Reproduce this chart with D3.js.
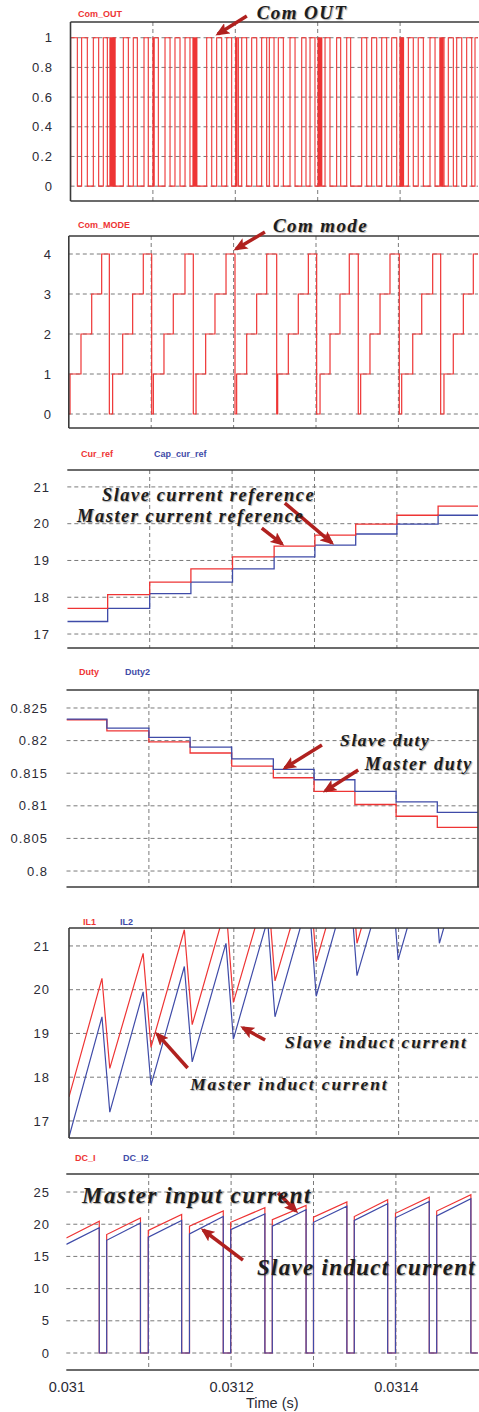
<!DOCTYPE html>
<html>
<head>
<meta charset="utf-8">
<script src="https://cdn.jsdelivr.net/npm/d3@7/dist/d3.min.js"></script>
<style>
  body { margin: 0; background: #fff; }
</style>
</head>
<body>
<div id="chart"></div>
<script>
// all times are in microseconds after t = 0.031 s

// Com_OUT: intervals where the output is high
const comOutPulses = [
  [0.2, 8.3], [13.5, 20.4], [27.7, 34.2], [39.8, 44.7],
  [47.8, 49.0], [49.6, 50.8], [51.4, 52.6], [53.2, 54.2],
  [64.1, 70.2], [76.2, 81.1], [89.2, 94.4], [100.0, 101.0], [101.6, 106.6],
  [114.7, 120.8], [126.8, 132.9], [139.0, 145.0],
  [148.6, 149.8], [150.4, 151.6], [152.2, 153.4],
  [165.3, 171.4], [177.4, 183.5], [189.6, 195.6], [200.4, 201.4], [202.0, 203.7],
  [207.8, 213.8], [219.9, 226.0], [232.0, 238.1], [241.3, 247.0],
  [252.2, 258.3], [266.4, 272.5], [280.6, 285.8], [290.7, 296.7],
  [300.4, 301.6], [302.2, 303.4], [304.0, 305.0],
  [308.9, 314.9], [323.0, 327.9], [335.2, 340.0], [353.4, 359.5],
  [365.5, 371.6], [377.7, 383.7], [389.8, 395.9],
  [399.8, 401.0], [401.6, 402.8], [403.4, 404.2],
  [410.0, 416.0], [422.0, 428.2], [436.3, 442.4],
  [448.2, 449.4], [450.0, 451.2], [451.8, 453.3],
  [458.5, 464.6], [468.7, 474.8], [480.8, 486.9], [490.9, 502]
];

// Com_MODE: [time, mode] held until the next change
const modeSteps = [
  [0, 0], [1.5, 1], [14.8, 2], [27.8, 3], [39.9, 4],
  [49.2, 0], [53.2, 1], [65.4, 2], [77.5, 3], [90.4, 4],
  [100.6, 0], [102.6, 1], [115.5, 2], [126.8, 3], [141.0, 4],
  [151.1, 0], [154.4, 1], [166.1, 2], [177.4, 3], [190.8, 4],
  [201.7, 0], [203.7, 1], [215.9, 2], [228.0, 3], [240.2, 4],
  [252.3, 0], [253.5, 1], [266.4, 2], [278.5, 3], [290.7, 4],
  [300.8, 0], [304.9, 1], [317.0, 2], [329.1, 3], [340.4, 4],
  [351.3, 0], [354.2, 1], [365.5, 2], [377.7, 3], [389.8, 4],
  [401.1, 0], [404.0, 1], [417.4, 2], [428.3, 3], [441.6, 4],
  [451.3, 0], [455.3, 1], [466.6, 2], [478.8, 3], [490.9, 4]
];

// current references and duties change once per switching period
const stepTimes = [0, 49, 100, 150, 200.5, 251, 300.5, 350, 400, 450];
const curRef    = [17.70, 18.07, 18.41, 18.77, 19.10, 19.39, 19.69, 19.99, 20.23, 20.48];
const capCurRef = [17.34, 17.70, 18.10, 18.41, 18.77, 19.10, 19.42, 19.72, 19.99, 20.23];
const duty  = [0.8232, 0.8215, 0.8198, 0.8181, 0.8161, 0.8143, 0.8122, 0.8102, 0.8084, 0.8067];
const duty2 = [0.8233, 0.8219, 0.8205, 0.8190, 0.8172, 0.8156, 0.8140, 0.8122, 0.8106, 0.8090];

// inductor currents: [time, A] at start, peaks and valleys
const il1 = [
  [0, 17.55], [40, 20.26], [49.5, 18.2], [90, 20.83], [99.5, 18.68],
  [140, 21.37], [149.5, 19.2], [190.5, 21.9], [199.5, 19.71], [241, 22.4],
  [250, 20.2], [291, 22.85], [300, 20.64], [340.5, 23.3], [349.5, 21.06],
  [390, 23.7], [399.5, 21.45], [440.5, 24.1], [449.5, 21.8], [491, 24.5], [500, 22.2]
];
const il2 = [
  [0, 16.63], [40, 19.38], [49.5, 17.2], [90, 19.95], [99.5, 17.82],
  [140, 20.53], [149.5, 18.35], [190.5, 21.06], [199.5, 18.87], [241, 21.6],
  [250, 19.38], [291, 22.1], [300, 19.85], [340.5, 22.55], [349.5, 20.32],
  [390, 22.95], [399.5, 20.68], [440.5, 23.4], [449.5, 21.06], [491, 23.8], [500, 21.45]
];

// input currents: conduction from dcOn to dcOff, zero otherwise
const dcOn  = [0, 49, 99.5, 149.5, 199.5, 250, 300, 349.5, 399.5, 449.5];
const dcOff = [40, 90, 140, 190.5, 241, 291, 340.5, 390, 440.5, 491];
const dcIStart  = [17.86, 18.40, 19.05, 19.70, 20.30, 20.70, 21.10, 21.20, 21.70, 22.05];
const dcIEnd    = [20.45, 20.96, 21.50, 22.05, 22.57, 22.93, 23.45, 23.80, 24.20, 24.60];
const dcI2Start = [16.87, 17.50, 18.00, 18.50, 19.15, 19.70, 20.30, 20.60, 21.00, 21.30];
const dcI2End   = [19.46, 20.20, 20.60, 21.20, 21.60, 22.25, 22.80, 23.20, 23.55, 23.96];

const gridTimes = [100, 200, 300, 400];
const xTickTimes = [0, 200, 400];

const RED = '#ee3434';
const BLUE = '#3f4ba8';
const ARROW = '#b0211f';
const W = 479, H = 1412, RIGHT = 478;
const T_END = 502;

const svg = d3.select('#chart').append('svg')
  .attr('width', W)
  .attr('height', H)
  .style('font-family', '"Liberation Sans", Arial, sans-serif');

const defs = svg.append('defs');
defs.append('marker')
  .attr('id', 'head')
  .attr('markerUnits', 'userSpaceOnUse')
  .attr('markerWidth', 14).attr('markerHeight', 12)
  .attr('refX', 11).attr('refY', 6)
  .attr('orient', 'auto')
  .append('path')
  .attr('d', 'M0,0 L14,6 L0,12 L3,6 Z')
  .attr('fill', ARROW);

const line = (x, y) => d3.line().x(d => x(d[0])).y(d => y(d[1]));

// building point lists for the signals
const comOutPoints = [[0, 0]];
comOutPulses.forEach(([s, e]) => comOutPoints.push([s, 0], [s, 1], [e, 1], [e, 0]));

const stepped = (times, vals) => times.map((t, i) => [t, vals[i]]).concat([[T_END, vals[vals.length - 1]]]);

function dcPoints(starts, ends) {
  const pts = [];
  dcOn.forEach((t, i) => {
    if (i > 0) pts.push([t, 0]);
    pts.push([t, starts[i]], [dcOff[i], ends[i]], [dcOff[i], 0]);
  });
  pts.push([T_END, 0]);
  return pts;
}

const panels = [
  {
    top: 22, bottom: 201, left: 70.5, yDomain: [-0.1, 1.106],
    yTicks: [0, 0.2, 0.4, 0.6, 0.8, 1], labelRight: 53, frameLeft: true,
    legendY: 17, legends: [['Com_OUT', 78, RED]],
    series: [{ pts: comOutPoints, color: RED, w: 1.1 }],
    notes: [{ text: 'Com OUT', t: 226, v: 1.126, size: 19, ls: 1.4 }],
    arrows: [[214, 1.146, 179, 1.025]]
  },
  {
    top: 236, bottom: 428, left: 68.8, yDomain: [-0.35, 4.45],
    yTicks: [0, 1, 2, 3, 4], labelRight: 52, frameLeft: true,
    legendY: 228, legends: [['Com_MODE', 78, RED]],
    series: [{ pts: modeSteps.concat([[T_END, 4]]), color: RED, w: 1.2, step: true }],
    notes: [{ text: 'Com mode', t: 247.8, v: 4.55, size: 19, ls: 1.4 }],
    arrows: [[238, 4.55, 203, 4.125]]
  },
  {
    top: 470, bottom: 648, left: 67.3, yDomain: [16.62, 21.46],
    yTicks: [17, 18, 19, 20, 21], labelRight: 50,
    legendY: 457, legends: [['Cur_ref', 81, RED], ['Cap_cur_ref', 154, BLUE]],
    series: [
      { pts: stepped(stepTimes, capCurRef), color: BLUE, w: 1.3, step: true },
      { pts: stepped(stepTimes, curRef), color: RED, w: 1.3, step: true }
    ],
    notes: [
      { text: 'Slave current reference', t: 42, v: 20.62, size: 18.5, ls: 1.5 },
      { text: 'Master current reference', t: 11.8, v: 20.05, size: 18.5, ls: 1.5 }
    ],
    arrows: [[264, 20.56, 321, 19.48], [236, 19.88, 260.5, 19.45]]
  },
  {
    top: 690, bottom: 887, left: 66.5, yDomain: [0.79755, 0.82776],
    yTicks: [0.8, 0.805, 0.81, 0.815, 0.82, 0.825], labelRight: 48, frameRight: true,
    legendY: 675, legends: [['Duty', 79, RED], ['Duty2', 125, BLUE]],
    series: [
      { pts: stepped(stepTimes, duty), color: RED, w: 1.3, step: true },
      { pts: stepped(stepTimes, duty2), color: BLUE, w: 1.3, step: true }
    ],
    notes: [
      { text: 'Slave duty', t: 332, v: 0.81917, size: 17.5, ls: 1.6 },
      { text: 'Master duty', t: 362, v: 0.81549, size: 18, ls: 1.8 }
    ],
    arrows: [[310, 0.81933, 265, 0.8158], [354, 0.81549, 314, 0.81227]]
  },
  {
    top: 928, bottom: 1138, left: 69, yDomain: [16.61, 21.41],
    yTicks: [17, 18, 19, 20, 21], labelRight: 50, frameLeft: true,
    legendY: 925, legends: [['IL1', 83, RED], ['IL2', 120, BLUE]],
    series: [
      { pts: il1, color: RED, w: 1.2 },
      { pts: il2, color: BLUE, w: 1.2 }
    ],
    notes: [
      { text: 'Slave induct current', t: 262, v: 18.67, size: 17.5, ls: 1.8 },
      { text: 'Master induct current', t: 147, v: 17.71, size: 17.5, ls: 1.9 }
    ],
    arrows: [[238, 18.85, 211, 19.13], [144, 18.21, 107, 18.99]]
  },
  {
    top: 1174, bottom: 1370, left: 66.3, yDomain: [-2.64, 27.8],
    yTicks: [0, 5, 10, 15, 20, 25], labelRight: 50, xAxis: true,
    legendY: 1161, legends: [['DC_I', 75, RED], ['DC_I2', 123, BLUE]],
    series: [
      { pts: dcPoints(dcIStart, dcIEnd), color: RED, w: 1.2 },
      { pts: dcPoints(dcI2Start, dcI2End), color: BLUE, w: 1.2 }
    ],
    notes: [
      { text: 'Master input current', t: 19, v: 23.29, size: 23, ls: 1.6 },
      { text: 'Slave induct current', t: 231.4, v: 12.11, size: 23, ls: 1.3 }
    ],
    arrows: [[257, 24.84, 278.8, 22.05], [214.4, 14.44, 166, 19.1]]
  }
];

panels.forEach((p, idx) => {
  const x = d3.scaleLinear().domain([0, 500]).range([p.left, p.left + 500 * 0.824]);
  const y = d3.scaleLinear().domain(p.yDomain).range([p.bottom, p.top]);
  const g = svg.append('g');

  const clipId = 'clip' + idx;
  defs.append('clipPath').attr('id', clipId)
    .append('rect')
    .attr('x', p.left).attr('y', p.top)
    .attr('width', RIGHT - p.left).attr('height', p.bottom - p.top);

  // grid
  g.selectAll('.hg').data(p.yTicks).enter().append('line')
    .attr('x1', p.left).attr('x2', RIGHT)
    .attr('y1', d => y(d)).attr('y2', d => y(d))
    .attr('stroke', '#7a7a7a').attr('stroke-width', 1)
    .attr('stroke-dasharray', '4,3');
  g.selectAll('.vg').data(gridTimes).enter().append('line')
    .attr('x1', d => x(d)).attr('x2', d => x(d))
    .attr('y1', p.top).attr('y2', p.bottom)
    .attr('stroke', '#7a7a7a').attr('stroke-width', 1)
    .attr('stroke-dasharray', '4,3');

  // y tick labels
  const yAxis = g.append('g')
    .attr('transform', `translate(${p.labelRight},0)`)
    .call(d3.axisLeft(y).tickValues(p.yTicks).tickSize(0).tickPadding(0).tickFormat(d => String(d)));
  yAxis.select('.domain').remove();
  yAxis.selectAll('text')
    .attr('font-size', 13)
    .attr('letter-spacing', 1)
    .attr('fill', '#2b2b35')
    .attr('font-family', '"Liberation Sans", Arial, sans-serif');

  // signals
  const plot = g.append('g').attr('clip-path', `url(#${clipId})`);
  p.series.forEach(s => {
    const gen = line(x, y);
    if (s.step) gen.curve(d3.curveStepAfter);
    plot.append('path')
      .datum(s.pts)
      .attr('d', gen)
      .attr('fill', 'none')
      .attr('stroke', s.color)
      .attr('stroke-width', s.w)
      .attr('stroke-linejoin', 'miter');
  });

  // frame
  const frame = g.append('g').attr('stroke', '#3a3a3a').attr('stroke-width', 1.6);
  frame.append('line').attr('x1', p.left).attr('x2', RIGHT + 1).attr('y1', p.top).attr('y2', p.top);
  frame.append('line').attr('x1', p.left).attr('x2', RIGHT + 1).attr('y1', p.bottom).attr('y2', p.bottom);
  if (p.frameLeft) frame.append('line').attr('x1', p.left).attr('x2', p.left).attr('y1', p.top).attr('y2', p.bottom);
  if (p.frameRight) frame.append('line').attr('x1', RIGHT).attr('x2', RIGHT).attr('y1', p.top).attr('y2', p.bottom);

  // legend
  g.selectAll('.lg').data(p.legends).enter().append('text')
    .attr('x', d => d[1]).attr('y', p.legendY)
    .attr('fill', d => d[2])
    .attr('font-size', 9)
    .attr('font-weight', 'bold')
    .text(d => d[0]);

  // annotations
  p.arrows.forEach(a => {
    g.append('line')
      .attr('x1', x(a[0])).attr('y1', y(a[1]))
      .attr('x2', x(a[2])).attr('y2', y(a[3]))
      .attr('stroke', ARROW).attr('stroke-width', 3.5)
      .attr('marker-end', 'url(#head)');
  });
  p.notes.forEach(n => {
    g.append('text')
      .attr('x', x(n.t)).attr('y', y(n.v))
      .attr('font-family', '"Liberation Serif", "Times New Roman", serif')
      .attr('font-style', 'italic')
      .attr('font-weight', 'bold')
      .attr('font-size', n.size)
      .attr('letter-spacing', n.ls)
      .attr('fill', '#1c1c1c')
      .style('text-shadow', '1px 1px 1px rgba(0,0,0,0.35)')
      .text(n.text);
  });

  if (p.xAxis) {
    const xa = g.append('g')
      .attr('transform', `translate(0,${p.bottom + 12})`)
      .call(d3.axisBottom(x).tickValues(xTickTimes).tickSize(0).tickPadding(0)
        .tickFormat(d => String(+(0.031 + d * 1e-6).toFixed(4))));
    xa.select('.domain').remove();
    xa.selectAll('text')
      .attr('font-size', 14.5)
      .attr('fill', '#2b2b35')
      .attr('font-family', '"Liberation Sans", Arial, sans-serif');
    g.append('text')
      .attr('x', x(250)).attr('y', 1408)
      .attr('text-anchor', 'middle')
      .attr('font-size', 14.5)
      .attr('fill', '#2b2b35')
      .text('Time (s)');
  }
});
</script>
</body>
</html>
